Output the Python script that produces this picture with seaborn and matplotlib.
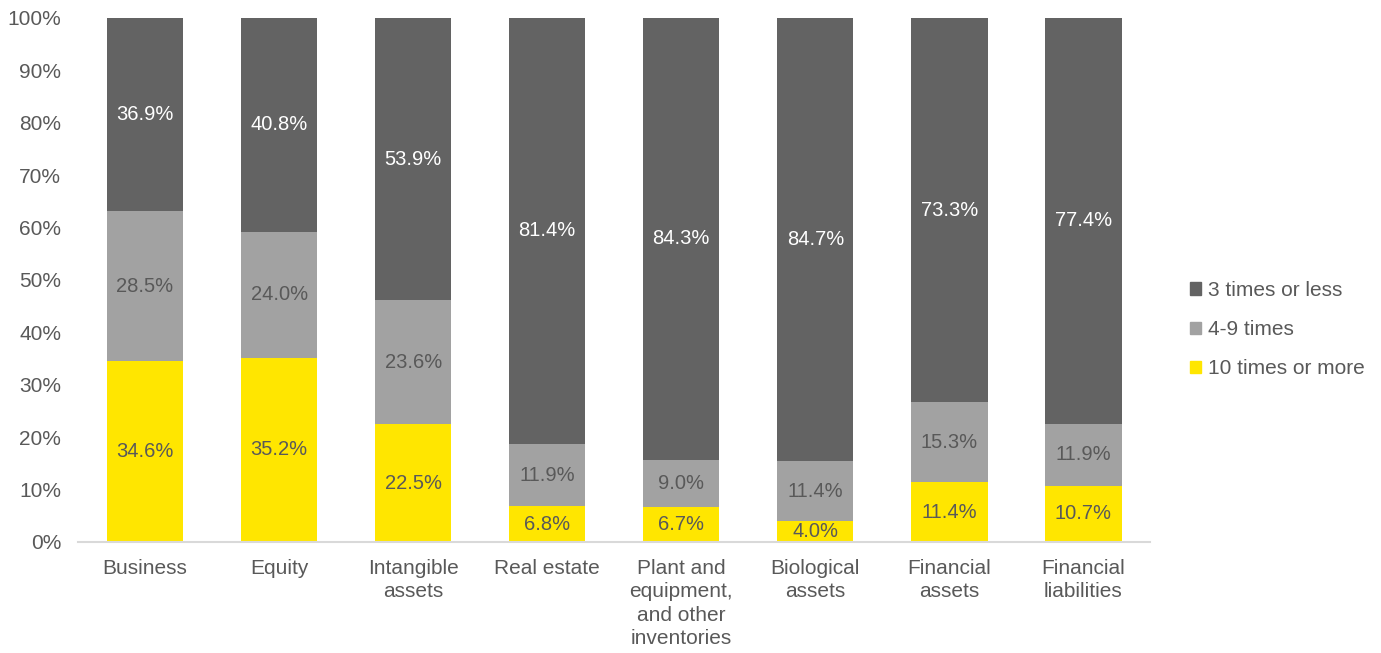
import numpy as np
import pandas as pd
import seaborn as sns
import matplotlib
matplotlib.use("Agg")
import matplotlib.pyplot as plt
from matplotlib.patches import Patch

# data
categories = ["Business", "Equity", "Intangible\nassets", "Real estate",
              "Plant and\nequipment,\nand other\ninventories", "Biological\nassets",
              "Financial\nassets", "Financial\nliabilities"]
ten_or_more = [34.6, 35.2, 22.5, 6.8, 6.7, 4.0, 11.4, 10.7]
four_to_nine = [28.5, 24.0, 23.6, 11.9, 9.0, 11.4, 15.3, 11.9]
three_or_less = [36.9, 40.8, 53.9, 81.4, 84.3, 84.7, 73.3, 77.4]
series_names = ["3 times or less", "4-9 times", "10 times or more"]

c_dark = "#636363"
c_mid = "#a2a2a2"
c_yel = "#ffe600"
txt = "#595959"

sns.set_style("white")
plt.rcParams["font.family"] = ["Liberation Sans", "DejaVu Sans"]

df = pd.DataFrame({"cat": categories, "low": ten_or_more, "mid": four_to_nine, "top": three_or_less})
df["cum_mid"] = df["low"] + df["mid"]
df["cum_top"] = (df["cum_mid"] + df["top"]).clip(upper=100)

fig = plt.figure(figsize=(13.81, 6.53), dpi=100)
ax = fig.add_axes([0.0565, 0.17, 0.7765, 0.8025])

w = 0.57
sns.barplot(data=df, x="cat", y="cum_top", color=c_dark, width=w, saturation=1, ax=ax, linewidth=0)
sns.barplot(data=df, x="cat", y="cum_mid", color=c_mid, width=w, saturation=1, ax=ax, linewidth=0)
sns.barplot(data=df, x="cat", y="low", color=c_yel, width=w, saturation=1, ax=ax, linewidth=0)

fs = 15
fs_lab = 14.5
for i in range(len(categories)):
    lo, md, tp = ten_or_more[i], four_to_nine[i], three_or_less[i]
    ax.text(i, lo / 2, f"{lo:.1f}%", ha="center", va="center", color=txt, fontsize=fs_lab)
    ax.text(i, lo + md / 2, f"{md:.1f}%", ha="center", va="center", color=txt, fontsize=fs_lab)
    ax.text(i, lo + md + tp / 2, f"{tp:.1f}%", ha="center", va="center", color="white", fontsize=fs_lab)

ax.set_xlim(-0.5, len(categories) - 0.5)
ax.set_ylim(0, 100)
ax.set_yticks(np.arange(0, 101, 10))
ax.set_yticklabels([f"{v}%" for v in range(0, 101, 10)])
ax.set_xlabel("")
ax.set_ylabel("")
ax.tick_params(axis="both", length=0, labelsize=fs, colors=txt)
ax.tick_params(axis="x", pad=12)
ax.tick_params(axis="y", pad=12)
for lab in ax.get_xticklabels():
    lab.set_linespacing(1.3)
for s in ["top", "right", "left"]:
    ax.spines[s].set_visible(False)
ax.spines["bottom"].set_color("#d9d9d9")
ax.spines["bottom"].set_linewidth(1.5)

handles = [Patch(color=c) for c in [c_dark, c_mid, c_yel]]
leg = fig.legend(handles, series_names, loc="center left", bbox_to_anchor=(0.848, 0.495),
                 frameon=False, fontsize=fs, handlelength=0.55, handleheight=0.55,
                 handletextpad=0.3, labelspacing=0.97)
for t in leg.get_texts():
    t.set_color(txt)

fig.savefig("out.png", dpi=100)
